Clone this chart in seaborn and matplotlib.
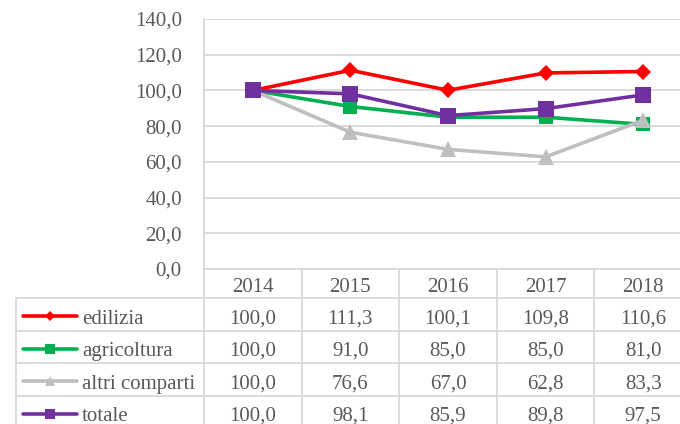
import matplotlib
matplotlib.use("Agg")
import matplotlib.pyplot as plt
import pandas as pd
import seaborn as sns

# index values (2014 = 100)
years = ["2014", "2015", "2016", "2017", "2018"]
series_names = ["edilizia", "agricoltura", "altri comparti", "totale"]
edilizia = [100.0, 111.3, 100.1, 109.8, 110.6]
agricoltura = [100.0, 91.0, 85.0, 85.0, 81.0]
altri_comparti = [100.0, 76.6, 67.0, 62.8, 83.3]
totale = [100.0, 98.1, 85.9, 89.8, 97.5]
y_ticks = [0, 20, 40, 60, 80, 100, 120, 140]

values = {"edilizia": edilizia, "agricoltura": agricoltura,
          "altri comparti": altri_comparti, "totale": totale}
colors = {"edilizia": "#FF0000", "agricoltura": "#00B050",
          "altri comparti": "#BFBFBF", "totale": "#7030A0"}
markers = {"edilizia": "D", "agricoltura": "s", "altri comparti": "^", "totale": "s"}
msize = {"edilizia": 8, "agricoltura": 10.5, "altri comparti": 12, "totale": 12}
key_msize = {"edilizia": 5.5, "agricoltura": 6.5, "altri comparti": 6.5, "totale": 7.5}

rows = []
for name in series_names:
    for i, v in enumerate(values[name]):
        rows.append({"pos": i, "serie": name, "valore": v})
df = pd.DataFrame(rows)

sns.set_theme(style="white")
plt.rcParams["font.family"] = ["Liberation Serif", "DejaVu Serif"]
text_col = "#595959"
grid_col = "#D9D9D9"
fs = 15

W, H = 680, 424
fig = plt.figure(figsize=(W / 100, H / 100), dpi=100)

# plot area in pixels: x 204..692 (runs past the right edge), y 19..269
px_l, px_r, px_t, px_b = 204, 692, 19, 269
ax = fig.add_axes([px_l / W, 1 - px_b / H, (px_r - px_l) / W, (px_b - px_t) / H])

for name in series_names:
    d = df[df["serie"] == name]
    sns.lineplot(data=d, x="pos", y="valore", color=colors[name], marker=markers[name],
                 markersize=msize[name], markeredgewidth=0, linewidth=2.6,
                 ax=ax, legend=False)

ax.set_xlim(-0.5, 4.5)
ax.set_ylim(0, 140)
ax.set_yticks(y_ticks)
ax.set_yticklabels([f"{t:.1f}".replace(".", ",") for t in y_ticks], color=text_col, fontsize=fs)
ax.tick_params(axis="y", length=0, pad=16)
ax.set_xticks([])
ax.set_xlabel("")
ax.set_ylabel("")
ax.grid(axis="y", color=grid_col, linewidth=1.3)
ax.set_axisbelow(True)
for s in ["top", "right", "bottom"]:
    ax.spines[s].set_visible(False)
ax.spines["left"].set_color(grid_col)
ax.spines["left"].set_linewidth(1.3)

# data table under the plot
unit = (px_r - px_l) / 5.0
tb_l = 16
x_left = -0.5 - (px_l - tb_l) / unit
tb_top, tb_bot = px_b, 428
tax = fig.add_axes([tb_l / W, 1 - tb_bot / H, (px_r - tb_l) / W, (tb_bot - tb_top) / H])
tax.set_xlim(x_left, 4.5)
tax.set_ylim(tb_bot - tb_top, 0)
tax.axis("off")

bounds = [0, 29, 62, 94, 127, 159]
lw = 1.3
tax.plot([-0.5, 4.5], [0, 0], color=grid_col, lw=lw, clip_on=False)
for b in bounds[1:]:
    tax.plot([x_left, 4.5], [b, b], color=grid_col, lw=lw, clip_on=False)
tax.plot([x_left, x_left], [bounds[1], bounds[-1]], color=grid_col, lw=lw, clip_on=False)
for k in range(6):
    tax.plot([k - 0.5, k - 0.5], [0, bounds[-1]], color=grid_col, lw=lw, clip_on=False)

for i, yr in enumerate(years):
    tax.text(i, (bounds[0] + bounds[1]) / 2 + 3.5, yr, ha="center", va="center",
             fontsize=fs, color=text_col)

key_a = x_left + 7 / unit
key_b = x_left + 61 / unit
for r, name in enumerate(series_names):
    yc = (bounds[r + 1] + bounds[r + 2]) / 2 + 4.5
    tax.plot([key_a, key_b], [yc - 3, yc - 3], color=colors[name], lw=2.6,
             solid_capstyle="round", clip_on=False)
    tax.plot([(key_a + key_b) / 2], [yc - 3], marker=markers[name], ms=key_msize[name],
             mew=0, color=colors[name], clip_on=False)
    tax.text(x_left + 66 / unit, yc, name, ha="left", va="center", fontsize=fs, color=text_col)
    for i, v in enumerate(values[name]):
        tax.text(i, yc, f"{v:.1f}".replace(".", ","), ha="center", va="center",
                 fontsize=fs, color=text_col)

fig.savefig("out.png", dpi=100)
